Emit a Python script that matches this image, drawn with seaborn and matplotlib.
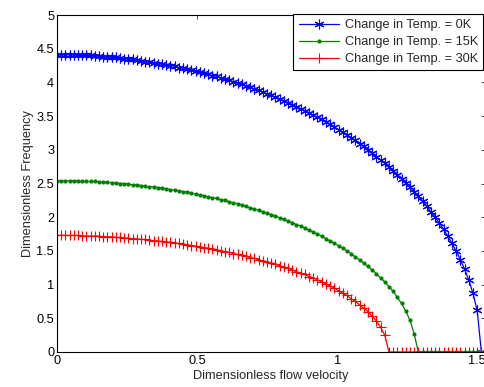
import matplotlib
matplotlib.use("Agg")
import matplotlib.pyplot as plt
import seaborn as sns
import numpy as np

# Dimensionless flow velocity sample points (step 0.015)
velocity = [0.0, 0.015, 0.03, 0.045, 0.06, 0.075, 0.09, 0.105, 0.12, 0.135,
            0.15, 0.165, 0.18, 0.195, 0.21, 0.225, 0.24, 0.255, 0.27, 0.285,
            0.3, 0.315, 0.33, 0.345, 0.36, 0.375, 0.39, 0.405, 0.42, 0.435,
            0.45, 0.465, 0.48, 0.495, 0.51, 0.525, 0.54, 0.555, 0.57, 0.585,
            0.6, 0.615, 0.63, 0.645, 0.66, 0.675, 0.69, 0.705, 0.72, 0.735,
            0.75, 0.765, 0.78, 0.795, 0.81, 0.825, 0.84, 0.855, 0.87, 0.885,
            0.9, 0.915, 0.93, 0.945, 0.96, 0.975, 0.99, 1.005, 1.02, 1.035,
            1.05, 1.065, 1.08, 1.095, 1.11, 1.125, 1.14, 1.155, 1.17, 1.185,
            1.2, 1.215, 1.23, 1.245, 1.26, 1.275, 1.29, 1.305, 1.32, 1.335,
            1.35, 1.365, 1.38, 1.395, 1.41, 1.425, 1.44, 1.455, 1.47, 1.485,
            1.5, 1.515]

freq_0K = [4.41, 4.41, 4.41, 4.41, 4.41, 4.40, 4.40, 4.40, 4.40, 4.39,
           4.39, 4.38, 4.38, 4.37, 4.37, 4.36, 4.35, 4.35, 4.34, 4.33,
           4.32, 4.31, 4.30, 4.29, 4.28, 4.27, 4.26, 4.25, 4.24, 4.22,
           4.21, 4.20, 4.18, 4.17, 4.15, 4.14, 4.12, 4.10, 4.09, 4.07,
           4.05, 4.03, 4.01, 3.99, 3.97, 3.95, 3.93, 3.90, 3.88, 3.86,
           3.83, 3.81, 3.78, 3.75, 3.73, 3.70, 3.67, 3.64, 3.61, 3.58,
           3.55, 3.51, 3.48, 3.45, 3.41, 3.38, 3.34, 3.30, 3.26, 3.22,
           3.18, 3.14, 3.09, 3.05, 3.00, 2.95, 2.90, 2.85, 2.80, 2.75,
           2.69, 2.63, 2.57, 2.51, 2.45, 2.38, 2.31, 2.24, 2.16, 2.08,
           2.00, 1.91, 1.82, 1.72, 1.61, 1.50, 1.37, 1.23, 1.07, 0.87,
           0.62, 0.0]

freq_15K = [2.54, 2.54, 2.54, 2.54, 2.54, 2.54, 2.53, 2.53, 2.53, 2.53,
            2.52, 2.52, 2.52, 2.51, 2.51, 2.50, 2.50, 2.49, 2.48, 2.48,
            2.47, 2.46, 2.45, 2.45, 2.44, 2.43, 2.42, 2.41, 2.40, 2.39,
            2.38, 2.37, 2.36, 2.34, 2.33, 2.32, 2.30, 2.29, 2.28, 2.26,
            2.25, 2.23, 2.21, 2.20, 2.18, 2.16, 2.14, 2.12, 2.10, 2.08,
            2.06, 2.04, 2.02, 1.99, 1.97, 1.94, 1.92, 1.89, 1.87, 1.84,
            1.81, 1.78, 1.75, 1.72, 1.68, 1.65, 1.61, 1.58, 1.54, 1.50,
            1.46, 1.41, 1.37, 1.32, 1.27, 1.22, 1.16, 1.10, 1.04, 0.97,
            0.90, 0.81, 0.72, 0.61, 0.47, 0.27, 0.0, 0.0, 0.0, 0.0,
            0.0, 0.0, 0.0, 0.0, 0.0, 0.0, 0.0, 0.0, 0.0, 0.0,
            0.0, 0.0]

freq_30K = [1.73, 1.73, 1.73, 1.73, 1.73, 1.73, 1.72, 1.72, 1.72, 1.72,
            1.72, 1.71, 1.71, 1.71, 1.70, 1.70, 1.69, 1.69, 1.68, 1.68,
            1.67, 1.67, 1.66, 1.65, 1.65, 1.64, 1.63, 1.63, 1.62, 1.61,
            1.60, 1.59, 1.58, 1.57, 1.56, 1.55, 1.54, 1.53, 1.52, 1.50,
            1.49, 1.48, 1.46, 1.45, 1.44, 1.42, 1.40, 1.39, 1.37, 1.35,
            1.34, 1.32, 1.30, 1.28, 1.26, 1.24, 1.22, 1.19, 1.17, 1.15,
            1.12, 1.10, 1.07, 1.04, 1.01, 0.98, 0.95, 0.91, 0.87, 0.84,
            0.79, 0.75, 0.70, 0.65, 0.60, 0.53, 0.46, 0.37, 0.25, 0.0,
            0.0, 0.0, 0.0, 0.0, 0.0, 0.0, 0.0, 0.0, 0.0, 0.0,
            0.0, 0.0, 0.0, 0.0, 0.0, 0.0, 0.0, 0.0, 0.0, 0.0,
            0.0, 0.0]

series_labels = ["Change in Temp. = 0K", "Change in Temp. = 15K", "Change in Temp. = 30K"]
x_ticks = [0, 0.5, 1, 1.5]
x_tick_labels = ["0", "0.5", "1", "1.5"]
y_ticks = [0, 0.5, 1, 1.5, 2, 2.5, 3, 3.5, 4, 4.5, 5]
y_tick_labels = ["0", "0.5", "1", "1.5", "2", "2.5", "3", "3.5", "4", "4.5", "5"]

sns.set_style("white")
plt.rcParams["font.family"] = ["Liberation Sans", "DejaVu Sans"]

FS = 9.2

fig = plt.figure(figsize=(4.84, 3.87), dpi=100)
ax = fig.add_axes([57 / 484, 1 - 352 / 387, (485 - 57) / 484, (352 - 15) / 387])

sns.lineplot(x=velocity, y=freq_0K, ax=ax, color=(0, 0, 1), linewidth=0.9,
             marker=(6, 2, 0), markersize=7, markeredgewidth=0.8, markeredgecolor=(0, 0, 1),
             label=series_labels[0], estimator=None, sort=False)
sns.lineplot(x=velocity, y=freq_15K, ax=ax, color=(0, 0.5, 0), linewidth=0.9,
             marker="o", markersize=3, markeredgewidth=0, markerfacecolor=(0, 0.5, 0),
             label=series_labels[1], estimator=None, sort=False)
sns.lineplot(x=velocity, y=freq_30K, ax=ax, color=(1, 0, 0), linewidth=0.9,
             marker="+", markersize=7, markeredgewidth=0.8, markeredgecolor=(1, 0, 0),
             label=series_labels[2], estimator=None, sort=False)

ax.set_xlim(0, 1.528)
ax.set_ylim(0, 5)
ax.set_xticks(x_ticks)
ax.set_xticklabels(x_tick_labels)
ax.set_yticks(y_ticks)
ax.set_yticklabels(y_tick_labels)
ax.tick_params(direction="in", length=3, width=0.5, labelsize=FS, colors="black",
               top=True, right=True, pad=2)
for sp in ax.spines.values():
    sp.set_visible(True)
    sp.set_color("black")
    sp.set_linewidth(0.8)

ax.set_xlabel("Dimensionless flow velocity", fontsize=FS, labelpad=2)
ax.set_ylabel("Dimensionless Frequency", fontsize=FS, labelpad=2)

leg = ax.legend(loc="upper right", bbox_to_anchor=(483 / 484, 1 - 14 / 387),
                bbox_transform=fig.transFigure, fontsize=FS, frameon=True,
                fancybox=False, framealpha=1, edgecolor="black",
                borderpad=0.4, labelspacing=0.4, handlelength=3.2, handletextpad=0.4,
                borderaxespad=0)
leg.get_frame().set_linewidth(0.8)

fig.savefig("out.png", dpi=100)
